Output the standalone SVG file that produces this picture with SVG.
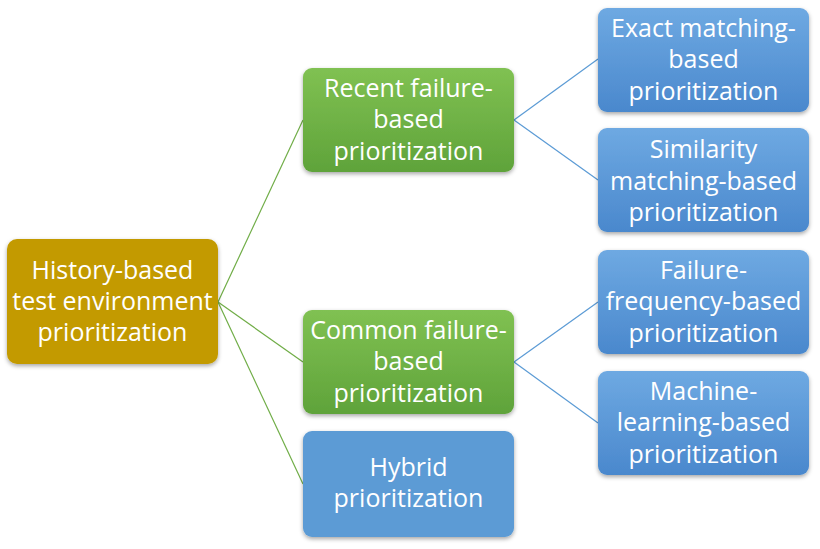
<svg xmlns="http://www.w3.org/2000/svg" width="820" height="549" viewBox="0 0 820 549">
<defs>
<linearGradient id="gG" x1="0" y1="0" x2="0" y2="1"><stop offset="0" stop-color="#80c152"/><stop offset="1" stop-color="#5fa33a"/></linearGradient>
<linearGradient id="gB" x1="0" y1="0" x2="0" y2="1"><stop offset="0" stop-color="#6ea9e2"/><stop offset="1" stop-color="#4a88cd"/></linearGradient>
<filter id="sh" x="-10%" y="-10%" width="120%" height="130%"><feDropShadow dx="0" dy="2" stdDeviation="2" flood-color="#000" flood-opacity="0.35"/></filter>
</defs>
<style>
.box{filter:url(#sh)}
.t{font-family:"Open Sans","Liberation Sans",sans-serif;font-size:25px;fill:#fff;text-anchor:middle}
.cg{stroke:#70ad47;stroke-width:1.2;fill:none}
.cb{stroke:#5b9bd5;stroke-width:1.2;fill:none}
</style>
<rect width="820" height="549" fill="#fff"/>
<g id="connectors">
<line class="cg" x1="218" y1="302" x2="303" y2="120"/>
<line class="cg" x1="218" y1="302" x2="303" y2="362"/>
<line class="cg" x1="218" y1="302" x2="303" y2="484"/>
<line class="cb" x1="514" y1="120" x2="598" y2="59"/>
<line class="cb" x1="514" y1="120" x2="598" y2="180"/>
<line class="cb" x1="514" y1="362" x2="598" y2="302"/>
<line class="cb" x1="514" y1="362" x2="598" y2="423"/>
</g>
<g id="root">
<rect class="box" x="7" y="239" width="211" height="125" rx="10" fill="#c39a03"/>
<text class="t" x="112.5" y="279">History-based</text>
<text class="t" x="112.5" y="310">test environment</text>
<text class="t" x="112.5" y="341">prioritization</text>
</g>
<g id="recent">
<rect class="box" x="303" y="68" width="211" height="104" rx="9" fill="url(#gG)"/>
<text class="t" x="408.5" y="97">Recent failure-</text>
<text class="t" x="408.5" y="128">based</text>
<text class="t" x="408.5" y="160">prioritization</text>
</g>
<g id="common">
<rect class="box" x="303" y="310" width="211" height="104" rx="9" fill="url(#gG)"/>
<text class="t" x="408.5" y="339">Common failure-</text>
<text class="t" x="408.5" y="370">based</text>
<text class="t" x="408.5" y="402">prioritization</text>
</g>
<g id="hybrid">
<rect class="box" x="303" y="431" width="211" height="106" rx="9" fill="#5b9bd5"/>
<text class="t" x="408.5" y="476">Hybrid</text>
<text class="t" x="408.5" y="507">prioritization</text>
</g>
<g id="exact">
<rect class="box" x="598" y="8" width="211" height="104" rx="9" fill="url(#gB)"/>
<text class="t" x="703.5" y="37">Exact matching-</text>
<text class="t" x="703.5" y="68">based</text>
<text class="t" x="703.5" y="100">prioritization</text>
</g>
<g id="similarity">
<rect class="box" x="598" y="128" width="211" height="104" rx="9" fill="url(#gB)"/>
<text class="t" x="703.5" y="158">Similarity</text>
<text class="t" x="703.5" y="190">matching-based</text>
<text class="t" x="703.5" y="221">prioritization</text>
</g>
<g id="frequency">
<rect class="box" x="598" y="250" width="211" height="104" rx="9" fill="url(#gB)"/>
<text class="t" x="703.5" y="279">Failure-</text>
<text class="t" x="703.5" y="310">frequency-based</text>
<text class="t" x="703.5" y="342">prioritization</text>
</g>
<g id="machine">
<rect class="box" x="598" y="371" width="211" height="104" rx="9" fill="url(#gB)"/>
<text class="t" x="703.5" y="400">Machine-</text>
<text class="t" x="703.5" y="431">learning-based</text>
<text class="t" x="703.5" y="463">prioritization</text>
</g>
</svg>
